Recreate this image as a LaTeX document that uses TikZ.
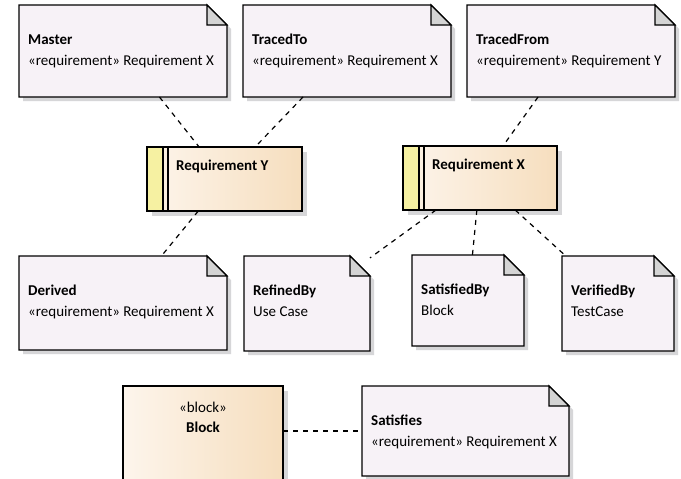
\documentclass[tikz,border=0pt]{standalone}
\usepackage{fontspec}
\setmainfont{Carlito}
\usetikzlibrary{fit,calc}
\definecolor{notefill}{RGB}{247,242,247}
\definecolor{foldfill}{RGB}{212,212,212}
\definecolor{shadowc}{RGB}{214,214,216}
\definecolor{reqleft}{RGB}{253,245,236}
\definecolor{reqright}{RGB}{246,222,190}
\definecolor{stripyellow}{RGB}{246,241,162}
\definecolor{stripcream}{RGB}{251,240,224}
\tikzset{
  boxline/.style={draw=black, line width=1.2pt},
  notestyle/.style={boxline, fill=notefill},
  foldstyle/.style={boxline, fill=foldfill, line join=miter},
  shadowstyle/.style={fill=shadowc},
  lbl/.style={anchor=base west, inner sep=0pt},
  clbl/.style={anchor=base, inner sep=0pt},
  conn/.style={draw=black, line width=1.2pt, dash pattern=on 5pt off 5pt},
  frame/.style={inner sep=0pt, outer sep=0pt}
}
\newcommand\mknote[6]{% name, x1, y1, x2, y2, {title}{sub} via #6
  \path (#2,#3) coordinate (#1-nw) (#4,#5) coordinate (#1-se);
  \node[frame, fit=(#1-nw)(#1-se)] (#1) {};
  \fill[shadowstyle] ($(#1.north west)+(4,4)$) -- ($(#1.north east)+(-16,4)$) -- ($(#1.north east)+(4,24)$) -- ($(#1.south east)+(4,4)$) -- ($(#1.south west)+(4,4)$) -- cycle;
  \filldraw[notestyle] (#1.north west) -- ($(#1.north east)+(-20,0)$) -- ($(#1.north east)+(0,20)$) -- (#1.south east) -- (#1.south west) -- cycle;
  \filldraw[foldstyle] ($(#1.north east)+(-20,0)$) -- ($(#1.north east)+(-20,20)$) -- ($(#1.north east)+(0,20)$) -- cycle;
  #6
}
\newcommand\notetext[3]{%
  \node[lbl] (#1-t) at ($(#1.north west)+(9,39)$) {\bfseries #2};
  \node[lbl] (#1-s) at ($(#1.north west)+(9,60)$) {#3};
}
\newcommand\mkreq[6]{% name, x1, y1, x2, y2, title
  \path (#2,#3) coordinate (#1-nw) (#4,#5) coordinate (#1-se);
  \node[frame, fit=(#1-nw)(#1-se)] (#1) {};
  \fill[shadowstyle] ($(#1.north west)+(5,5)$) rectangle ($(#1.south east)+(5,5)$);
  \shade[left color=reqleft, right color=reqright] (#1.north west) rectangle (#1.south east);
  \fill[stripyellow] (#1.north west) rectangle ($(#1.south west)+(16,0)$);
  \fill[stripcream] ($(#1.north west)+(16,0)$) rectangle ($(#1.south west)+(21,0)$);
  \draw[line width=1.2pt] ($(#1.north west)+(16,0)$) -- ($(#1.south west)+(16,0)$);
  \draw[line width=1.2pt] ($(#1.north west)+(21,0)$) -- ($(#1.south west)+(21,0)$);
  \draw[boxline] (#1.north west) rectangle (#1.south east);
  \node[lbl] (#1-t) at ($(#1.north west)+(29,23)$) {\bfseries #6};
}
\begin{document}
\begin{tikzpicture}[x=1pt, y=-1pt, font=\fontsize{15}{18}\selectfont]
\useasboundingbox[fill=white] (0,0) rectangle (681,479);

% top notes
\mknote{master}{19}{5}{227}{97}{\notetext{master}{Master}{«requirement» Requirement X}}
\mknote{tracedto}{243}{5}{451}{97}{\notetext{tracedto}{TracedTo}{«requirement» Requirement X}}
\mknote{tracedfrom}{467}{5}{675}{97}{\notetext{tracedfrom}{TracedFrom}{«requirement» Requirement Y}}

% requirements
\mkreq{reqY}{147}{147}{302}{211}{Requirement Y}
\mkreq{reqX}{403}{146}{557}{210}{Requirement X}

% bottom notes
\mknote{derived}{19}{256}{227}{350}{\notetext{derived}{Derived}{«requirement» Requirement X}}
\mknote{refinedby}{244}{256}{370}{351}{\notetext{refinedby}{RefinedBy}{Use Case}}
\mknote{satisfiedby}{412}{255}{524}{346}{\notetext{satisfiedby}{SatisfiedBy}{Block}}
\mknote{verifiedby}{562}{256}{674}{351}{\notetext{verifiedby}{VerifiedBy}{TestCase}}

% block
\path (123,386) coordinate (block-nw) (283,484) coordinate (block-se);
\node[frame, fit=(block-nw)(block-se)] (block) {};
\fill[shadowstyle] ($(block.north west)+(5,5)$) rectangle ($(block.south east)+(5,5)$);
\shade[left color=reqleft, right color=reqright] (block.north west) rectangle (block.south east);
\draw[boxline] (block.north west) rectangle (block.south east);
\node[clbl] (block-st) at ($(block.north west)+(80,26)$) {«block»};
\node[clbl] (block-t) at ($(block.north west)+(80,46)$) {\bfseries Block};

\mknote{satisfies}{362}{386}{569}{476}{\notetext{satisfies}{Satisfies}{«requirement» Requirement X}}

% connectors
\draw[conn] (master) -- (reqY);
\draw[conn] (tracedto) -- (reqY);
\draw[conn] (tracedfrom) -- (reqX);
\draw[conn] (reqY) -- (derived);
\draw[conn] (reqX) -- (refinedby);
\draw[conn] (reqX) -- (satisfiedby);
\draw[conn] (reqX) -- (verifiedby);
\draw[conn] (block.east |- satisfies.west) -- (satisfies.west);
\end{tikzpicture}
\end{document}
